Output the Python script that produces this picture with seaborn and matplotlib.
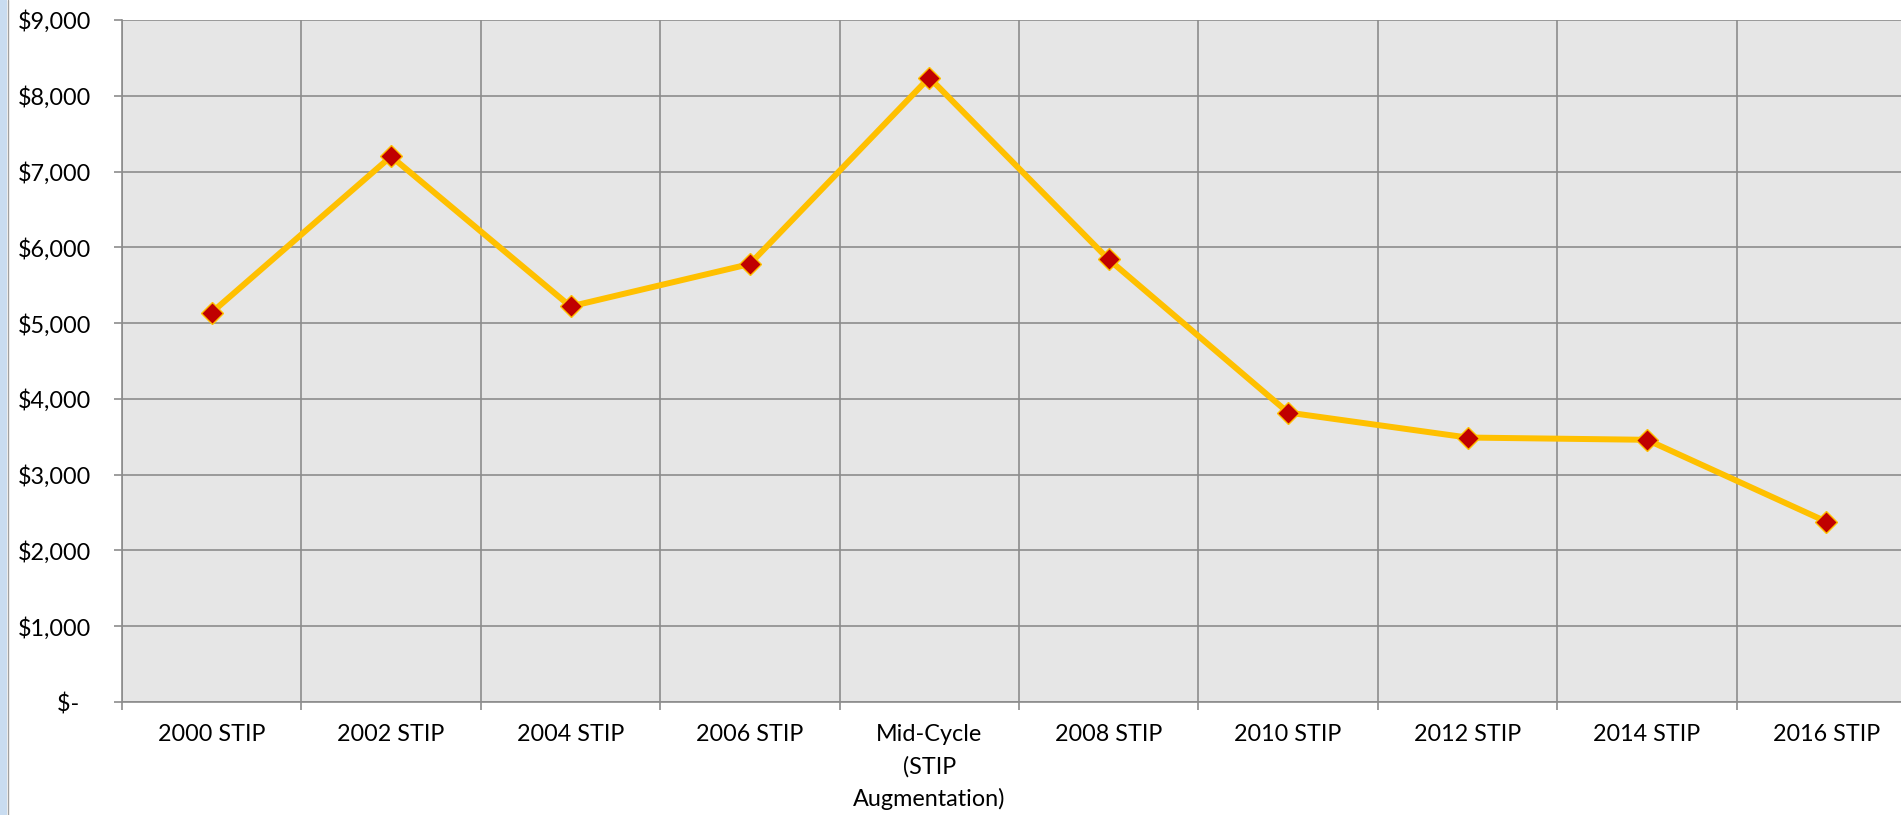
import matplotlib
matplotlib.use("Agg")
import matplotlib.pyplot as plt
from matplotlib.patches import Rectangle
from matplotlib.lines import Line2D
import seaborn as sns
import pandas as pd
import numpy as np

categories = ["2000 STIP", "2002 STIP", "2004 STIP", "2006 STIP",
              "Mid-Cycle\n(STIP\nAugmentation)", "2008 STIP", "2010 STIP",
              "2012 STIP", "2014 STIP", "2016 STIP"]
values = [5140, 7200, 5220, 5780, 8240, 5840, 3820, 3490, 3460, 2380]
y_ticks = [0, 1000, 2000, 3000, 4000, 5000, 6000, 7000, 8000, 9000]
y_labels = ["$-  ", "$1,000", "$2,000", "$3,000", "$4,000", "$5,000",
            "$6,000", "$7,000", "$8,000", "$9,000"]

sns.set_theme(style="white")
plt.rcParams["font.family"] = ["Lato", "DejaVu Sans"]

df = pd.DataFrame({"pos": np.arange(len(categories)), "value": values})

fig = plt.figure(figsize=(19.01, 8.15), dpi=100)
W, H = 1901, 815
left_px, right_px, top_px, bot_px = 122, 1916, 20, 702
ax = fig.add_axes([left_px / W, 1 - bot_px / H, (right_px - left_px) / W, (bot_px - top_px) / H])
ax.set_facecolor("#E6E6E6")

sns.lineplot(data=df, x="pos", y="value", ax=ax, color="#FFC000", linewidth=4.3,
             marker="D", markersize=11.5, markerfacecolor="#C00000",
             markeredgecolor="#FFC000", markeredgewidth=1.0, zorder=5)

n = len(categories)
ax.set_xlim(-0.5, n - 0.5)
ax.set_ylim(0, 9000)

grid_color = "#8C8C8C"
ax.set_xticks(np.arange(n))
ax.set_xticklabels(categories, fontsize=16.8, color="black", linespacing=1.6)
ax.set_xticks(np.arange(n + 1) - 0.5, minor=True)
ax.tick_params(axis="x", which="major", length=0, pad=16)
ax.tick_params(axis="x", which="minor", length=6, width=1.2, color=grid_color, bottom=True)
ax.set_yticks(y_ticks)
ax.set_yticklabels(y_labels, fontsize=16.8, color="black")
ax.tick_params(axis="y", which="major", length=6, width=1.2, color=grid_color, left=True, pad=16)

ax.grid(True, axis="y", which="major", color=grid_color, linewidth=1.2)
ax.grid(True, axis="x", which="minor", color=grid_color, linewidth=1.2)
ax.grid(False, axis="x", which="major")
ax.set_axisbelow(True)

for s in ["top", "right"]:
    ax.spines[s].set_visible(False)
for s in ["left", "bottom"]:
    ax.spines[s].set_color(grid_color)
    ax.spines[s].set_linewidth(1.2)

ax.set_xlabel("")
ax.set_ylabel("")

# window edge on the left
fig.patches.append(Rectangle((0, 0), 7 / W, 1, transform=fig.transFigure,
                             facecolor="#C9DCF0", edgecolor="none", zorder=0))
fig.lines.append(Line2D([7.5 / W, 7.5 / W], [0, 1], transform=fig.transFigure,
                        color="#A0A0A0", linewidth=1.0))

fig.savefig("out.png", dpi=100)
